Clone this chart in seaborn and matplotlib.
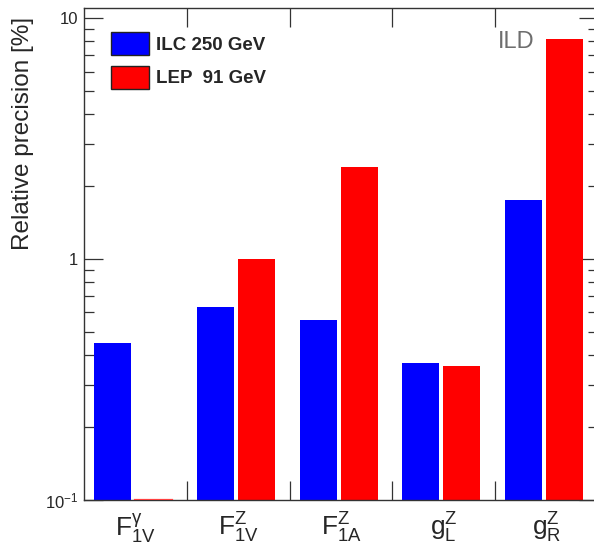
import matplotlib
matplotlib.use("Agg")
import matplotlib.pyplot as plt
import matplotlib.patches as mpatches
from matplotlib.ticker import FixedLocator, FixedFormatter, LogLocator, NullFormatter
import seaborn as sns
import pandas as pd

# ---- data ----
categories = ["F1V_gamma", "F1V_Z", "F1A_Z", "gL_Z", "gR_Z"]
tick_labels = [r"$\mathregular{F^{\gamma}_{1V}}$", r"$\mathregular{F^{Z}_{1V}}$",
               r"$\mathregular{F^{Z}_{1A}}$", r"$\mathregular{g^{Z}_{L}}$",
               r"$\mathregular{g^{Z}_{R}}$"]
series = ["ILC 250 GeV", "LEP  91 GeV"]
ilc_values = [0.45, 0.63, 0.56, 0.37, 1.75]
lep_values = [0.1, 1.0, 2.4, 0.36, 8.2]
ytick_values = [0.1, 1, 10]
ytick_labels = [r"$\mathregular{10^{-1}}$", "1", "10"]

colors = ["#0000ff", "#ff0000"]

df = pd.DataFrame({
    "category": categories * 2,
    "series": [series[0]] * len(categories) + [series[1]] * len(categories),
    "value": ilc_values + lep_values,
})

sns.set_theme(style="ticks")
plt.rcParams["font.family"] = ["Liberation Sans", "DejaVu Sans"]
plt.rcParams["mathtext.fontset"] = "custom"
plt.rcParams["mathtext.rm"] = "Liberation Sans"
plt.rcParams["mathtext.it"] = "Liberation Sans:italic"
plt.rcParams["mathtext.bf"] = "Liberation Sans:bold"

fig = plt.figure(figsize=(5.94, 5.45), dpi=100)
ax = fig.add_axes([84 / 594, 1 - 500 / 545, 514 / 594, 492.5 / 545])

sns.barplot(data=df, x="category", y="value", hue="series", order=categories,
            hue_order=series, palette=colors, width=0.8, gap=0.1,
            errorbar=None, ax=ax, legend=False, saturation=1.0,
            edgecolor="none", linewidth=0)

ax.set_yscale("log")
ax.set_ylim(0.1, 11.06)
ax.set_xlim(-0.477, 4.523)

# the LEP bar sitting at the axis minimum shows only as a thin line
for p in ax.patches:
    if p.get_facecolor()[0] > 0.9 and abs(p.get_y() + p.get_height() - 0.1) < 1e-9:
        p.set_edgecolor("#ff4040")
        p.set_linewidth(1.6)
        p.set_zorder(3)

# y ticks
ax.yaxis.set_major_locator(FixedLocator(ytick_values))
ax.yaxis.set_major_formatter(FixedFormatter(ytick_labels))
ax.yaxis.set_minor_locator(LogLocator(base=10, subs=range(2, 10)))
ax.yaxis.set_minor_formatter(NullFormatter())
ax.tick_params(axis="y", which="major", direction="in", length=14, width=0.9,
               left=True, right=True, labelsize=12, pad=4, color="#333333")
ax.tick_params(axis="y", which="minor", direction="in", length=7, width=0.9,
               left=True, right=True, color="#333333")

# x ticks: labels at category centres, tick marks at boundaries
ax.set_xticks([i + 0.023 for i in range(len(categories))])
ax.set_xticklabels(tick_labels)
ax.set_xticks([i + 0.523 for i in range(len(categories) - 1)], minor=True)
ax.tick_params(axis="x", which="major", length=0, labelsize=19, pad=8)
ax.tick_params(axis="x", which="minor", direction="in", length=14, width=0.9,
               top=True, bottom=True, color="#333333")

for s in ax.spines.values():
    s.set_linewidth(1.0)
    s.set_color("#333333")

ax.set_xlabel("")
ax.set_ylabel("Relative precision [%]", fontsize=17.5, loc="top")
ax.yaxis.set_label_coords(-0.098, 0.98)

# legend
handles = [mpatches.Patch(facecolor=c, edgecolor="#222222", linewidth=1.0, label=l)
           for c, l in zip(colors, series)]
ax.legend(handles=handles, loc="upper left", bbox_to_anchor=(27 / 514, 1 - 24.5 / 492.5),
          frameon=False, borderaxespad=0, borderpad=0, handlelength=2.0,
          handleheight=1.5, labelspacing=0.58, handletextpad=0.42,
          prop={"weight": "bold", "size": 13.5})

ax.text(0.805, 0.952, "ILD", transform=ax.transAxes, ha="left", va="top",
        fontsize=17, color="#6e6e6e")

fig.savefig("out.png", dpi=100)
